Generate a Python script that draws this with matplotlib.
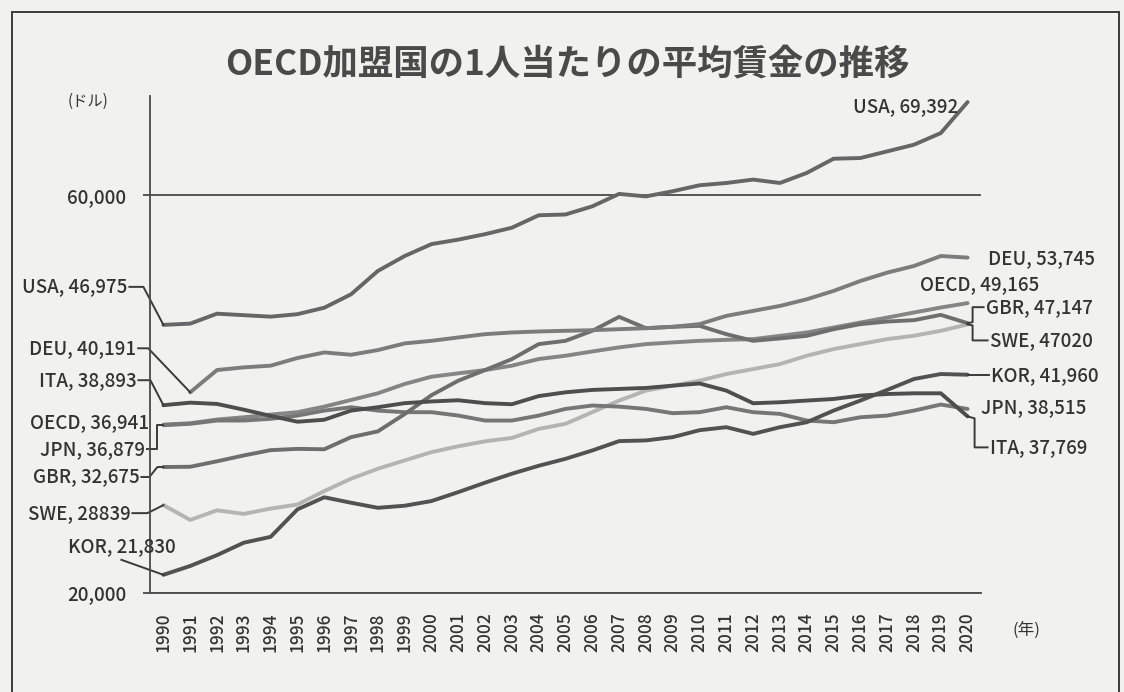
import numpy as np
import matplotlib
matplotlib.use("Agg")
import matplotlib.pyplot as plt

plt.rcParams['font.family'] = ['Noto Sans CJK JP', 'DejaVu Sans']

years = list(range(1990, 2021))

usa = [46975, 47100, 48100, 47950, 47800, 48050, 48700, 50050, 52400, 53900,
       55100, 55550, 56100, 56750, 58000, 58080, 58900, 60150, 59900, 60420,
       61020, 61250, 61590, 61250, 62260, 63690, 63760, 64430, 65100, 66270, 69392]
deu = [None, 40191, 42430, 42700, 42870, 43640, 44200, 43970, 44440, 45110,
       45370, 45710, 46040, 46210, 46310, 46380, 46440, 46540, 46640, 46780,
       47050, 47880, 48380, 48880, 49550, 50390, 51390, 52230, 52900, 53900, 53745]
ita = [38893, 39150, 39020, 38440, 37820, 37230, 37430, 38350, 38690, 39100,
       39270, 39390, 39100, 38990, 39810, 40190, 40430, 40530, 40630, 40860,
       41080, 40360, 39090, 39190, 39360, 39520, 39860, 40020, 40090, 40090, 37769]
oecd = [36941, 37080, 37450, 37680, 37950, 38190, 38750, 39420, 40090, 41030,
        41760, 42100, 42430, 42870, 43540, 43870, 44300, 44710, 45040, 45210,
        45370, 45470, 45540, 45870, 46210, 46710, 47210, 47710, 48220, 48720, 49165]
jpn = [36879, 37020, 37350, 37350, 37520, 37850, 38350, 38690, 38350, 38190,
       38190, 37850, 37350, 37350, 37850, 38520, 38860, 38750, 38520, 38090,
       38190, 38690, 38190, 38020, 37350, 37180, 37680, 37850, 38350, 38960, 38515]
gbr = [32675, 32700, 33250, 33840, 34370, 34500, 34460, 35680, 36260, 38000,
       39900, 41360, 42430, 43530, 45040, 45370, 46380, 47780, 46640, 46780,
       46880, 46040, 45370, 45610, 45870, 46540, 47050, 47310, 47450, 47980, 47147]
swe = [28839, 27350, 28320, 27960, 28490, 28900, 30250, 31500, 32500, 33340,
       34170, 34760, 35260, 35600, 36510, 37020, 38190, 39360, 40360, 40860,
       41360, 42030, 42530, 43030, 43870, 44540, 45040, 45540, 45880, 46380, 47020]
kor = [21830, 22720, 23810, 25060, 25650, 28410, 29630, 29080, 28570, 28780,
       29250, 30150, 31100, 32000, 32800, 33500, 34340, 35280, 35350, 35680,
       36380, 36680, 36010, 36680, 37180, 38350, 39360, 40430, 41530, 42030, 41960]

series = [
    ("SWE", swe, "#b4b4b2"),
    ("OECD", oecd, "#858585"),
    ("JPN", jpn, "#767676"),
    ("GBR", gbr, "#6e6e6e"),
    ("DEU", deu, "#7c7c7c"),
    ("KOR", kor, "#525252"),
    ("ITA", ita, "#4e4e4e"),
    ("USA", usa, "#666666"),
]

W, H = 1124, 692
fig = plt.figure(figsize=(W / 100, H / 100), dpi=100)
fig.patch.set_facecolor('#f1f1ef')
ax = fig.add_axes([150 / W, (H - 593) / H, (981 - 150) / W, (593 - 96) / H])
ax.set_facecolor('none')

x = np.arange(len(years))
for name, vals, color in series:
    v = np.array([np.nan if a is None else a for a in vals], dtype=float)
    ax.plot(x, v, color=color, lw=2.8, solid_capstyle='round', solid_joinstyle='round')

ax.set_xlim(-0.5, len(years) - 0.5)
ax.set_ylim(20000, 70000)
ax.set_yticks([20000, 60000])
ax.set_yticklabels(['20,000', '60,000'])
ax.yaxis.grid(True, color='#4a4a4a', lw=1.3)
ax.set_axisbelow(True)
ax.set_xticks(x)
ax.set_xticklabels([str(y) for y in years], rotation=90, fontweight='medium')
ax.tick_params(axis='x', length=0, pad=14, labelsize=12.5, labelcolor='#333333')
ax.tick_params(axis='y', length=5, width=1.3, pad=12, labelsize=13.5,
               color='#4a4a4a', labelcolor='#333333')
for t in ax.get_yticklabels():
    t.set_fontweight('medium')
for s in ['top', 'right']:
    ax.spines[s].set_visible(False)
for s in ['left', 'bottom']:
    ax.spines[s].set_color('#4a4a4a')
    ax.spines[s].set_linewidth(1.3)

fig.text(0.505, 1 - 64 / H, 'OECD加盟国の1人当たりの平均賃金の推移', ha='center', va='center',
         fontsize=25.5, weight='bold', color='#4a4a4a')
fig.text(88 / W, 1 - 101 / H, '(ドル)', ha='center', va='center', fontsize=11, color='#333333')
fig.text(1026 / W, 1 - 630 / H, '(年)', ha='center', va='center', fontsize=12, color='#333333')


def label(xi, val, text, dx, dy, ha, path=None):
    ax.annotate(text, xy=(xi, val), xytext=(dx, dy), textcoords='offset pixels',
                ha=ha, va='center', fontsize=13.5, fontweight='medium', color='#333333',
                annotation_clip=False)
    if path:
        px, py = ax.transData.transform((xi, val))
        verts = [(px + a, py + b) for a, b in path]
        dv = ax.transData.inverted().transform(verts)
        ax.plot(dv[:, 0], dv[:, 1], color='#3a3a3a', lw=1.4, clip_on=False)


# left side (1990 / 1991 values)
label(0, usa[0], f"USA, {usa[0]:,}", -36, 38, 'right', [(-34, 38), (-20, 38), (0, 0)])
label(1, deu[1], f"DEU, {deu[1]:,}", -54, 44, 'right', [(-52, 44), (-42, 44), (0, 0)])
label(0, ita[0], f"ITA, {ita[0]:,}", -27, 25, 'right', [(-25, 25), (-13, 25), (0, 0)])
label(0, oecd[0], f"OECD, {oecd[0]:,}", -14, 2, 'right')
label(0, jpn[0], f"JPN, {jpn[0]:,}", -18, -24, 'right', [(-16, -24), (-6, -24), (-6, 0), (0, 0)])
label(0, gbr[0], f"GBR, {gbr[0]:,}", -24, -10, 'right', [(-22, -10), (-14, -10), (-6, 0), (0, 0)])
label(0, swe[0], f"SWE, {swe[0]}", -33, -8, 'right', [(-31, -8), (-16, -8), (0, 0)])
label(0, kor[0], f"KOR, {kor[0]:,}", -42, 28, 'center', [(-42, 15), (0, 0)])

# right side (2020 values)
n = len(years) - 1
label(n, usa[n], f"USA, {usa[n]:,}", -9, -5, 'right')
label(n, deu[n], f"DEU, {deu[n]:,}", 20, -1, 'left')
label(n, oecd[n], f"OECD, {oecd[n]:,}", -48, 19, 'left')
label(n, gbr[n], f"GBR, {gbr[n]:,}", 18, 16, 'left', [(16, 16), (5, 16), (5, 1), (0, 0)])
label(n, swe[n], f"SWE, {swe[n]}", 22, -16, 'left', [(20, -16), (5, -16), (5, -1), (0, 0)])
label(n, kor[n], f"KOR, {kor[n]:,}", 23, -1, 'left', [(21, 0), (0, 0)])
label(n, jpn[n], f"JPN, {jpn[n]:,}", 13, 1, 'left')
label(n, ita[n], f"ITA, {ita[n]:,}", 22, -31, 'left', [(20, -31), (7, -31), (7, -2), (0, 0)])

# frame of the chart area
border = dict(color='#3c3c3c', lw=1.4, transform=fig.transFigure)
fig.add_artist(plt.Line2D([12 / W, 1119 / W], [1 - 12 / H, 1 - 12 / H], **border))
fig.add_artist(plt.Line2D([12 / W, 12 / W], [0, 1 - 12 / H], **border))
fig.add_artist(plt.Line2D([1119 / W, 1119 / W], [0, 1 - 12 / H], **border))

fig.savefig('out.png', dpi=100, facecolor=fig.get_facecolor())
